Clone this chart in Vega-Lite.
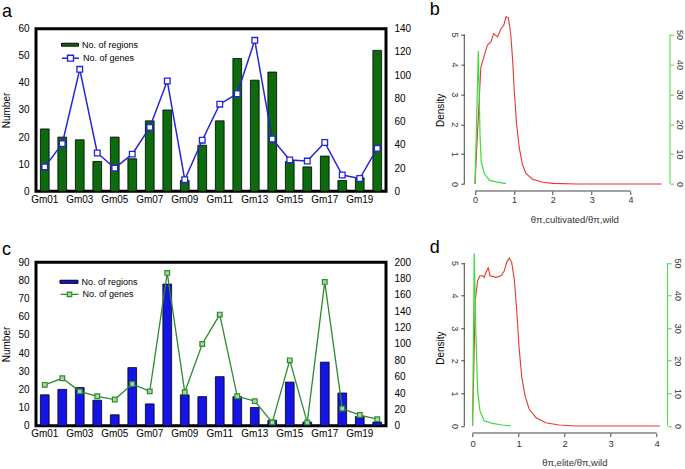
{
  "$schema": "https://vega.github.io/schema/vega-lite/v6.json",
  "padding": {"left": 0, "top": 0.7, "right": 0, "bottom": 0},
  "background": "white",
  "config": {
    "font": "Liberation Sans",
    "view": {"stroke": null},
    "axis": {"labelColor": "black", "titleColor": "black", "titleFontWeight": "normal", "grid": false},
    "title": {"fontWeight": "normal", "color": "black"}
  },
  "datasets": {
    "chrA": [
      {"chr": "Gm01", "regions": 23, "genes": 21},
      {"chr": "Gm02", "regions": 20, "genes": 41},
      {"chr": "Gm03", "regions": 19, "genes": 105},
      {"chr": "Gm04", "regions": 11, "genes": 33},
      {"chr": "Gm05", "regions": 20, "genes": 20},
      {"chr": "Gm06", "regions": 12, "genes": 32},
      {"chr": "Gm07", "regions": 26, "genes": 55},
      {"chr": "Gm08", "regions": 30, "genes": 95},
      {"chr": "Gm09", "regions": 4, "genes": 10},
      {"chr": "Gm10", "regions": 17, "genes": 44},
      {"chr": "Gm11", "regions": 26, "genes": 75},
      {"chr": "Gm12", "regions": 49, "genes": 84},
      {"chr": "Gm13", "regions": 41, "genes": 130},
      {"chr": "Gm14", "regions": 44, "genes": 45},
      {"chr": "Gm15", "regions": 11, "genes": 27},
      {"chr": "Gm16", "regions": 9, "genes": 26},
      {"chr": "Gm17", "regions": 13, "genes": 42},
      {"chr": "Gm18", "regions": 4, "genes": 14},
      {"chr": "Gm19", "regions": 5, "genes": 11},
      {"chr": "Gm20", "regions": 52, "genes": 37}
    ],
    "chrC": [
      {"chr": "Gm01", "regions": 17, "genes": 50},
      {"chr": "Gm02", "regions": 20, "genes": 58},
      {"chr": "Gm03", "regions": 21, "genes": 42},
      {"chr": "Gm04", "regions": 14, "genes": 36},
      {"chr": "Gm05", "regions": 6, "genes": 32},
      {"chr": "Gm06", "regions": 32, "genes": 51},
      {"chr": "Gm07", "regions": 12, "genes": 42},
      {"chr": "Gm08", "regions": 78, "genes": 187},
      {"chr": "Gm09", "regions": 17, "genes": 41},
      {"chr": "Gm10", "regions": 16, "genes": 100},
      {"chr": "Gm11", "regions": 27, "genes": 136},
      {"chr": "Gm12", "regions": 16, "genes": 36},
      {"chr": "Gm13", "regions": 10, "genes": 30},
      {"chr": "Gm14", "regions": 3, "genes": 4},
      {"chr": "Gm15", "regions": 24, "genes": 80},
      {"chr": "Gm16", "regions": 2, "genes": 4},
      {"chr": "Gm17", "regions": 35, "genes": 176},
      {"chr": "Gm18", "regions": 18, "genes": 21},
      {"chr": "Gm19", "regions": 5, "genes": 13},
      {"chr": "Gm20", "regions": 2, "genes": 8}
    ],
    "redB": [
      {"x": 0, "y": 0}, {"x": 0.07, "y": 1.85}, {"x": 0.15, "y": 3.9}, {"x": 0.24, "y": 4.3},
      {"x": 0.32, "y": 4.65}, {"x": 0.41, "y": 4.75}, {"x": 0.48, "y": 5.03}, {"x": 0.58, "y": 4.92},
      {"x": 0.67, "y": 5.2}, {"x": 0.74, "y": 5.31}, {"x": 0.8, "y": 5.6}, {"x": 0.86, "y": 5.55},
      {"x": 0.92, "y": 5.0}, {"x": 0.97, "y": 4.1}, {"x": 1.01, "y": 3.1}, {"x": 1.07, "y": 2.0},
      {"x": 1.14, "y": 1.2}, {"x": 1.22, "y": 0.65}, {"x": 1.31, "y": 0.35}, {"x": 1.48, "y": 0.16},
      {"x": 1.74, "y": 0.06}, {"x": 2.0, "y": 0.02}, {"x": 2.6, "y": 0.0}, {"x": 4.8, "y": 0.0}
    ],
    "greenB": [
      {"x": 0, "y": 0}, {"x": 0.086, "y": 44.5}, {"x": 0.13, "y": 16}, {"x": 0.16, "y": 7.5},
      {"x": 0.24, "y": 3.5}, {"x": 0.37, "y": 1.3}, {"x": 0.54, "y": 0.7}, {"x": 0.8, "y": 0.1}
    ],
    "redD": [
      {"x": 0, "y": 0}, {"x": 0.058, "y": 3.84}, {"x": 0.11, "y": 4.46}, {"x": 0.16, "y": 4.61},
      {"x": 0.22, "y": 4.61}, {"x": 0.25, "y": 4.56}, {"x": 0.29, "y": 4.71}, {"x": 0.34, "y": 4.85},
      {"x": 0.38, "y": 4.61}, {"x": 0.51, "y": 4.56}, {"x": 0.62, "y": 4.61}, {"x": 0.69, "y": 4.76},
      {"x": 0.74, "y": 5.02}, {"x": 0.8, "y": 5.15}, {"x": 0.85, "y": 5.02}, {"x": 0.91, "y": 4.46},
      {"x": 0.96, "y": 3.54}, {"x": 1.01, "y": 2.41}, {"x": 1.07, "y": 1.49}, {"x": 1.14, "y": 0.93},
      {"x": 1.23, "y": 0.52}, {"x": 1.38, "y": 0.25}, {"x": 1.59, "y": 0.1}, {"x": 1.88, "y": 0.03},
      {"x": 2.25, "y": 0.0}, {"x": 4.07, "y": 0.0}
    ],
    "greenD": [
      {"x": 0, "y": 0}, {"x": 0.036, "y": 53}, {"x": 0.072, "y": 28}, {"x": 0.11, "y": 11},
      {"x": 0.16, "y": 4.7}, {"x": 0.25, "y": 1.6}, {"x": 0.43, "y": 0.8}, {"x": 0.65, "y": 0.3},
      {"x": 0.83, "y": 0.05}
    ]
  },
  "columns": 2,
  "bounds": "flush",
  "align": "all",
  "spacing": {"row": 62.6, "column": 78.3},
  "resolve": {
    "scale": {"fill": "independent", "stroke": "independent"},
    "legend": {"fill": "independent", "stroke": "independent"}
  },
  "concat": [
    {
      "width": 350,
      "height": 162.6,
      "view": {"stroke": "black", "strokeWidth": 3},
      "title": {"text": "a", "anchor": "start", "frame": "bounds", "fontSize": 18, "offset": 3},
      "data": {"name": "chrA"},
      "encoding": {
        "x": {
          "field": "chr", "type": "nominal",
          "scale": {"paddingInner": 0.5, "paddingOuter": 0.25},
          "axis": {"values": ["Gm01", "Gm03", "Gm05", "Gm07", "Gm09", "Gm11", "Gm13", "Gm15", "Gm17", "Gm19"], "labelAngle": 0, "ticks": false, "tickSize": 0, "domain": false, "labelFontSize": 10, "labelPadding": 3, "title": null}
        }
      },
      "layer": [
        {
          "mark": {"type": "bar", "stroke": "black", "strokeWidth": 0.8},
          "encoding": {
            "y": {"field": "regions", "type": "quantitative", "scale": {"domain": [0, 60], "nice": false},
                  "axis": {"values": [0, 10, 20, 30, 40, 50, 60], "ticks": false, "tickSize": 0, "domain": false, "labelFontSize": 10, "labelPadding": 7, "title": "Number", "titleFontSize": 10, "titlePadding": 6}},
            "fill": {"datum": "No. of regions", "scale": {"range": ["#0c6b0c"]},
                     "legend": {"orient": "none", "legendX": 25, "legendY": 7, "title": null, "padding": 0,
                                "symbolType": "M-1,-0.17H1V0.17H-1Z", "symbolSize": 289, "symbolStrokeWidth": 1, "symbolStrokeColor": "black",
                                "labelFontSize": 9, "labelOffset": 3,
                                "encode": {"symbols": {"update": {"stroke": {"value": "black"}, "strokeWidth": {"value": 1}}}}}}
          }
        },
        {
          "encoding": {
            "y": {"field": "genes", "type": "quantitative", "scale": {"domain": [0, 140], "nice": false},
                  "axis": {"orient": "right", "values": [0, 20, 40, 60, 80, 100, 120, 140], "ticks": false, "tickSize": 0, "domain": false, "labelFontSize": 10, "labelPadding": 8, "title": null}}
          },
          "layer": [
            {
              "mark": {"type": "line", "strokeWidth": 1.5},
              "encoding": {
                "stroke": {"datum": "No. of genes", "scale": {"range": ["#2424d8"]},
                           "legend": {"orient": "none", "legendX": 25, "legendY": 20, "title": null, "padding": 0,
                                      "symbolType": "M-1,0H-0.35M0.35,0H1M-0.35,-0.35H0.35V0.35H-0.35Z", "symbolSize": 289, "symbolStrokeWidth": 1.4,
                                      "labelFontSize": 9, "labelOffset": 3,
                                      "encode": {"symbols": {"update": {"fill": {"value": "white"}, "strokeWidth": {"value": 1.4}}}}}}
              }
            },
            {"mark": {"type": "point", "shape": "square", "filled": true, "fill": "white", "stroke": "#2424d8", "strokeWidth": 1.3, "size": 32, "opacity": 1}}
          ]
        }
      ],
      "resolve": {"scale": {"y": "independent"}}
    },
    {
      "width": 205.7,
      "height": 162.3,
      "view": {"stroke": null},
      "title": {"text": "b", "anchor": "start", "frame": "bounds", "fontSize": 18, "offset": -5, "dx": -6},
      "layer": [
        {
          "layer": [
            {
              "data": {"name": "redB"},
              "mark": {"type": "line", "color": "#e8382f", "strokeWidth": 1.1},
              "encoding": {
                "x": {"field": "x", "type": "quantitative", "scale": {"domain": [-0.275, 5.013], "nice": false, "zero": false},
                      "axis": {"values": [0, 1, 2, 3, 4], "domain": false, "tickSize": 3.5, "tickColor": "#444", "labelFontSize": 9, "labelPadding": 1, "labelColor": "#333",
                               "title": "θπ,cultivated/θπ,wild", "titleFontSize": 9.5, "titlePadding": 10, "titleX": 110, "titleColor": "#333"}},
                "y": {"field": "y", "type": "quantitative", "scale": {"domain": [-0.234, 5.194], "nice": false, "zero": false},
                      "axis": {"values": [0, 1, 2, 3, 4, 5], "domain": false, "tickSize": 3.5, "tickColor": "#444", "labelAngle": 90, "labelOverlap": false, "labelFontSize": 9, "labelPadding": 2, "labelColor": "#333",
                               "title": "Density", "titleFontSize": 10, "titlePadding": 4}}
              }
            },
            {
              "data": {"values": [{}]},
              "mark": {"type": "rule", "color": "#444", "strokeWidth": 1},
              "encoding": {
                "x": {"datum": -0.275},
                "y": {"datum": 0, "type": "quantitative",
                      "axis": {"values": [0, 1, 2, 3, 4, 5], "domain": false, "tickSize": 3.5, "tickColor": "#444", "labelAngle": 90, "labelOverlap": false, "labelFontSize": 9, "labelPadding": 2, "labelColor": "#333",
                               "title": "Density", "titleFontSize": 10, "titlePadding": 4}},
                "y2": {"datum": 5}
              }
            },
            {
              "data": {"values": [{}]},
              "mark": {"type": "rule", "color": "#444", "strokeWidth": 1},
              "encoding": {
                "x": {"datum": 0, "type": "quantitative",
                      "axis": {"values": [0, 1, 2, 3, 4], "domain": false, "tickSize": 3.5, "tickColor": "#444", "labelFontSize": 9, "labelPadding": 1, "labelColor": "#333",
                               "title": "θπ,cultivated/θπ,wild", "titleFontSize": 9.5, "titlePadding": 10, "titleX": 110, "titleColor": "#333"}},
                "x2": {"datum": 4},
                "y": {"datum": -0.234, "type": "quantitative",
                      "axis": {"values": [0, 1, 2, 3, 4, 5], "domain": false, "tickSize": 3.5, "tickColor": "#444", "labelAngle": 90, "labelOverlap": false, "labelFontSize": 9, "labelPadding": 2, "labelColor": "#333",
                               "title": "Density", "titleFontSize": 10, "titlePadding": 4}}
              }
            }
          ]
        },
        {
          "layer": [
            {
              "data": {"name": "greenB"},
              "mark": {"type": "line", "color": "#3ddc3d", "strokeWidth": 1.2},
              "encoding": {
                "x": {"field": "x", "type": "quantitative"},
                "y": {"field": "y", "type": "quantitative", "scale": {"domain": [-2.34, 51.94], "nice": false, "zero": false},
                      "axis": {"orient": "right", "values": [0, 10, 20, 30, 40, 50], "domain": false, "tickSize": 3.5, "tickColor": "#3ddc3d", "labelAngle": 90, "labelOverlap": false, "labelFontSize": 9, "labelPadding": 1.5, "labelColor": "#333", "title": null}}
              }
            },
            {
              "data": {"values": [{}]},
              "mark": {"type": "rule", "color": "#3ddc3d", "strokeWidth": 1},
              "encoding": {
                "x": {"datum": 5.013},
                "y": {"datum": 0, "type": "quantitative",
                      "axis": {"orient": "right", "values": [0, 10, 20, 30, 40, 50], "domain": false, "tickSize": 3.5, "tickColor": "#3ddc3d", "labelAngle": 90, "labelOverlap": false, "labelFontSize": 9, "labelPadding": 1.5, "labelColor": "#333", "title": null}},
                "y2": {"datum": 50}
              }
            }
          ]
        }
      ],
      "resolve": {"scale": {"y": "independent"}}
    },
    {
      "width": 350,
      "height": 163.4,
      "view": {"stroke": "black", "strokeWidth": 3},
      "title": {"text": "c", "anchor": "start", "frame": "bounds", "fontSize": 18, "offset": -2},
      "data": {"name": "chrC"},
      "encoding": {
        "x": {
          "field": "chr", "type": "nominal",
          "scale": {"paddingInner": 0.5, "paddingOuter": 0.25},
          "axis": {"values": ["Gm01", "Gm03", "Gm05", "Gm07", "Gm09", "Gm11", "Gm13", "Gm15", "Gm17", "Gm19"], "labelAngle": 0, "ticks": false, "tickSize": 0, "domain": false, "labelFontSize": 10, "labelPadding": 3, "title": null}
        }
      },
      "layer": [
        {
          "mark": {"type": "bar", "stroke": "black", "strokeWidth": 0.8},
          "encoding": {
            "y": {"field": "regions", "type": "quantitative", "scale": {"domain": [0, 90], "nice": false},
                  "axis": {"values": [0, 10, 20, 30, 40, 50, 60, 70, 80, 90], "ticks": false, "tickSize": 0, "domain": false, "labelFontSize": 10, "labelPadding": 7, "title": "Number", "titleFontSize": 10, "titlePadding": 6}},
            "fill": {"datum": "No. of regions", "scale": {"range": ["#1414e6"]},
                     "legend": {"orient": "none", "legendX": 23.5, "legendY": 10, "title": null, "padding": 0,
                                "symbolType": "M-1,-0.17H1V0.17H-1Z", "symbolSize": 324, "symbolStrokeWidth": 1, "symbolStrokeColor": "black",
                                "labelFontSize": 9, "labelOffset": 3,
                                "encode": {"symbols": {"update": {"stroke": {"value": "black"}, "strokeWidth": {"value": 1}}}}}}
          }
        },
        {
          "encoding": {
            "y": {"field": "genes", "type": "quantitative", "scale": {"domain": [0, 200], "nice": false},
                  "axis": {"orient": "right", "values": [0, 20, 40, 60, 80, 100, 120, 140, 160, 180, 200], "ticks": false, "tickSize": 0, "domain": false, "labelFontSize": 10, "labelPadding": 8, "title": null}}
          },
          "layer": [
            {
              "mark": {"type": "line", "strokeWidth": 1.3},
              "encoding": {
                "stroke": {"datum": "No. of genes", "scale": {"range": ["#2e8b2e"]},
                           "legend": {"orient": "none", "legendX": 23.5, "legendY": 22, "title": null, "padding": 0,
                                      "symbolType": "M-1,0H-0.25M0.25,0H1M-0.25,-0.25H0.25V0.25H-0.25Z", "symbolSize": 324, "symbolStrokeWidth": 1.2,
                                      "labelFontSize": 9, "labelOffset": 3,
                                      "encode": {"symbols": {"update": {"fill": {"value": "#a8d8a0"}, "strokeWidth": {"value": 1.2}}}}}}
              }
            },
            {"mark": {"type": "point", "shape": "square", "filled": true, "fill": "#a8d8a0", "stroke": "#2e8b2e", "strokeWidth": 1.2, "size": 22, "opacity": 1}}
          ]
        }
      ],
      "resolve": {"scale": {"y": "independent"}}
    },
    {
      "width": 203.3,
      "height": 170.7,
      "view": {"stroke": null},
      "title": {"text": "d", "anchor": "start", "frame": "bounds", "fontSize": 18, "offset": -6, "dx": -6},
      "layer": [
        {
          "layer": [
            {
              "data": {"name": "redD"},
              "mark": {"type": "line", "color": "#e8382f", "strokeWidth": 1.1},
              "encoding": {
                "x": {"field": "x", "type": "quantitative", "scale": {"domain": [-0.18, 4.239], "nice": false, "zero": false},
                      "axis": {"values": [0, 1, 2, 3, 4], "domain": false, "tickSize": 3.5, "tickColor": "#444", "labelFontSize": 9.5, "labelPadding": 2.5, "labelColor": "#333",
                               "title": "θπ,elite/θπ,wild", "titleFontSize": 9.5, "titlePadding": 9, "titleX": 110, "titleColor": "#333"}},
                "y": {"field": "y", "type": "quantitative", "scale": {"domain": [-0.215, 5.021], "nice": false, "zero": false},
                      "axis": {"values": [0, 1, 2, 3, 4, 5], "domain": false, "tickSize": 3.5, "tickColor": "#444", "labelAngle": 90, "labelOverlap": false, "labelFontSize": 9, "labelPadding": 2, "labelColor": "#333",
                               "title": "Density", "titleFontSize": 10, "titlePadding": 4}}
              }
            },
            {
              "data": {"values": [{}]},
              "mark": {"type": "rule", "color": "#444", "strokeWidth": 1},
              "encoding": {
                "x": {"datum": -0.18},
                "y": {"datum": 0, "type": "quantitative",
                      "axis": {"values": [0, 1, 2, 3, 4, 5], "domain": false, "tickSize": 3.5, "tickColor": "#444", "labelAngle": 90, "labelOverlap": false, "labelFontSize": 9, "labelPadding": 2, "labelColor": "#333",
                               "title": "Density", "titleFontSize": 10, "titlePadding": 4}},
                "y2": {"datum": 5}
              }
            },
            {
              "data": {"values": [{}]},
              "mark": {"type": "rule", "color": "#444", "strokeWidth": 1},
              "encoding": {
                "x": {"datum": 0, "type": "quantitative",
                      "axis": {"values": [0, 1, 2, 3, 4], "domain": false, "tickSize": 3.5, "tickColor": "#444", "labelFontSize": 9.5, "labelPadding": 2.5, "labelColor": "#333",
                               "title": "θπ,elite/θπ,wild", "titleFontSize": 9.5, "titlePadding": 9, "titleX": 110, "titleColor": "#333"}},
                "x2": {"datum": 4},
                "y": {"datum": -0.215, "type": "quantitative",
                      "axis": {"values": [0, 1, 2, 3, 4, 5], "domain": false, "tickSize": 3.5, "tickColor": "#444", "labelAngle": 90, "labelOverlap": false, "labelFontSize": 9, "labelPadding": 2, "labelColor": "#333",
                               "title": "Density", "titleFontSize": 10, "titlePadding": 4}}
              }
            }
          ]
        },
        {
          "layer": [
            {
              "data": {"name": "greenD"},
              "mark": {"type": "line", "color": "#3ddc3d", "strokeWidth": 1.2},
              "encoding": {
                "x": {"field": "x", "type": "quantitative"},
                "y": {"field": "y", "type": "quantitative", "scale": {"domain": [-2.15, 50.21], "nice": false, "zero": false},
                      "axis": {"orient": "right", "values": [0, 10, 20, 30, 40, 50], "domain": false, "tickSize": 3.5, "tickColor": "#3ddc3d", "labelAngle": 90, "labelOverlap": false, "labelFontSize": 9, "labelPadding": 1.5, "labelColor": "#333", "title": null}}
              }
            },
            {
              "data": {"values": [{}]},
              "mark": {"type": "rule", "color": "#3ddc3d", "strokeWidth": 1},
              "encoding": {
                "x": {"datum": 4.239},
                "y": {"datum": 0, "type": "quantitative",
                      "axis": {"orient": "right", "values": [0, 10, 20, 30, 40, 50], "domain": false, "tickSize": 3.5, "tickColor": "#3ddc3d", "labelAngle": 90, "labelOverlap": false, "labelFontSize": 9, "labelPadding": 1.5, "labelColor": "#333", "title": null}},
                "y2": {"datum": 50}
              }
            }
          ]
        }
      ],
      "resolve": {"scale": {"y": "independent"}}
    }
  ]
}
